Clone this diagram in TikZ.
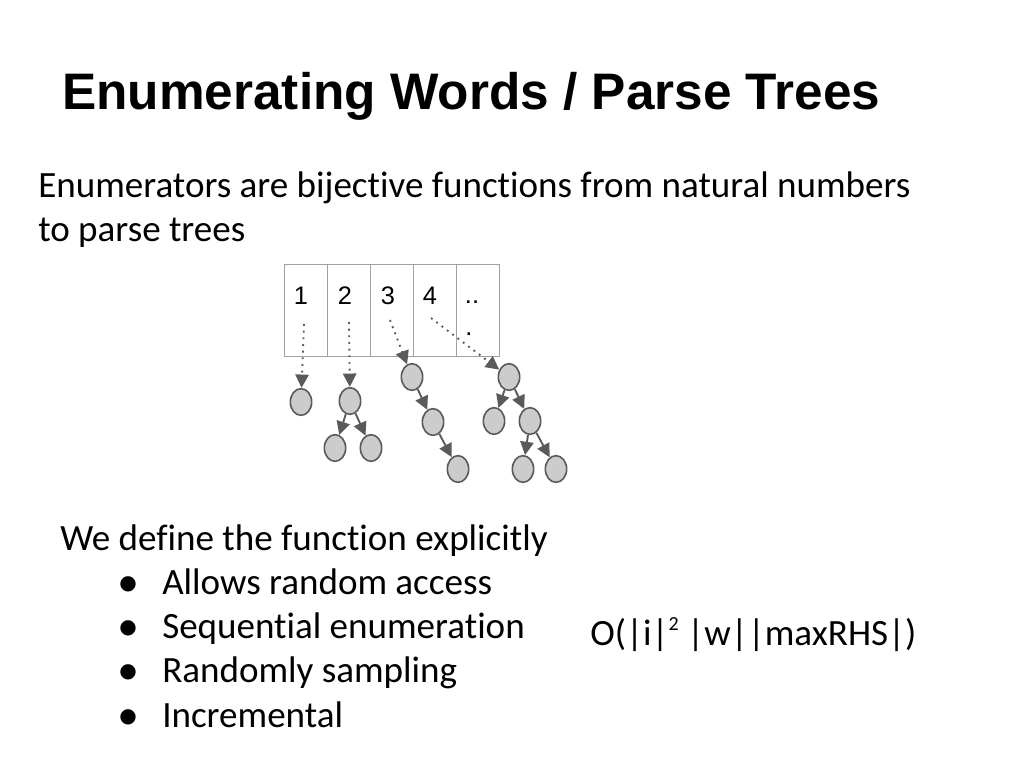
\documentclass[tikz,border=0pt]{standalone}
\usepackage{fontspec}
\setmainfont{Carlito}[Ligatures={NoCommon}]
\newfontfamily\arialf{Liberation Sans}
\newfontfamily\dejavu{DejaVu Sans}
\usetikzlibrary{arrows.meta,shapes.geometric}
\definecolor{nodefill}{HTML}{CCCCCC}
\definecolor{nodeline}{HTML}{5A5A5A}
\definecolor{boxline}{HTML}{A0A0A0}
\tikzset{
  tnode/.style={ellipse,draw=nodeline,fill=nodefill,line width=1.2pt,minimum width=16pt,minimum height=20pt,inner sep=0pt},
  tedge/.style={draw=nodeline,line width=1.4pt,-{Triangle[length=10pt,width=10pt]}},
  dedge/.style={draw=nodeline,line width=1.4pt,dash pattern=on 1.4pt off 3.6pt,-{Triangle[length=10pt,width=10pt]}},
  cell/.style={draw=boxline,line width=0.8pt,minimum width=32.25pt,minimum height=69pt,inner sep=0pt,anchor=north west},
  num/.style={font=\arialf\fontsize{19}{22}\selectfont,inner sep=0pt},
  body/.style={font=\fontsize{27.8}{33}\selectfont,inner sep=0pt,anchor=base west},
}
\begin{document}
\begin{tikzpicture}[x=0.75pt,y=-0.75pt]
\useasboundingbox (0,0) rectangle (1024,768);
% title
\node[font=\arialf\bfseries\fontsize{38.5}{46}\selectfont,inner sep=0pt,anchor=base west] (title) at (62,109) {Enumerating Words / Parse Trees};
\node[body] (sub1) at (38,197) {Enumerators are bijective functions from natural numbers};
\node[body] (sub2) at (38,241) {to parse trees};
% cells
\node[cell] (c1) at (284,264) {};
\node[cell] (c2) at (327,264) {};
\node[cell] (c3) at (370,264) {};
\node[cell] (c4) at (413,264) {};
\node[cell] (c5) at (456,264) {};
\node[num] (n1) at (301,296) {1};
\node[num] (n2) at (345,296) {2};
\node[num] (n3) at (388,296) {3};
\node[num] (n4) at (430,296) {4};
\node[num,anchor=base] (n5) at (472,303) {..};
\node[num,anchor=base] (n6) at (469,335) {.};
% trees
\node[tnode] (a1) at (301,402) {};
\node[tnode] (b1) at (350,401) {};
\node[tnode] (b2) at (335,448) {};
\node[tnode] (b3) at (371,448) {};
\node[tnode] (d1) at (412,377) {};
\node[tnode] (d2) at (433,422) {};
\node[tnode] (d3) at (458,469) {};
\node[tnode] (e1) at (509,377) {};
\node[tnode] (e2) at (494,421) {};
\node[tnode] (e3) at (530,421) {};
\node[tnode] (e4) at (523,469) {};
\node[tnode] (e5) at (556,469) {};
\draw[tedge] (b1) -- (b2);
\draw[tedge] (b1) -- (b3);
\draw[tedge] (d1) -- (d2);
\draw[tedge] (d2) -- (d3);
\draw[tedge] (e1) -- (e2);
\draw[tedge] (e1) -- (e3);
\draw[tedge] (e3) -- (e4);
\draw[tedge] (e3) -- (e5);
% dotted arrows
\coordinate (s1) at (304,324);
\coordinate (s2) at (349,322);
\coordinate (s3) at (390,320);
\coordinate (s4) at (431,318);
\draw[dedge] (s1) -- (a1);
\draw[dedge] (s2) -- (b1);
\draw[dedge] (s3) -- (d1);
\draw[dedge] (s4) -- (e1);
% bullets
\node[body] (w) at (60,550) {We define the function explicitly};
\foreach \t/\yy [count=\i] in {Allows random access/594, Sequential enumeration/638, Randomly sampling/682, Incremental/727}{
  \node[font=\dejavu\fontsize{15}{17}\selectfont,inner sep=0pt] (bul\i) at (128,\yy-10) {●};
  \node[body] (it\i) at (162,\yy) {\t};
}
\node[body] (cplx) at (590,645) {O(|i|\raisebox{0.38em}{\fontsize{15}{18}\selectfont 2} |w||maxRHS|)};
\end{tikzpicture}
\end{document}
